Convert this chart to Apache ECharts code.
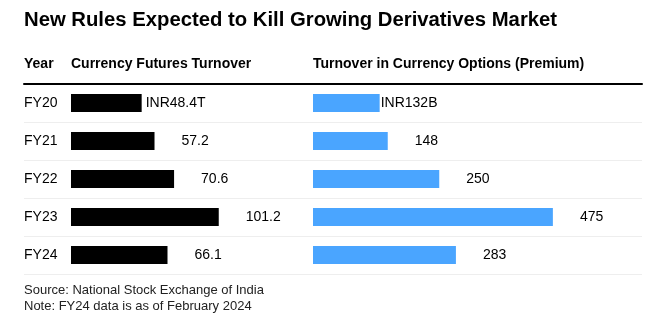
<!DOCTYPE html>
<html><head><meta charset="utf-8">
<script src="https://cdn.jsdelivr.net/npm/echarts@6/dist/echarts.min.js"></script>
<style>html,body{margin:0;padding:0;background:#fff}#c{width:653px;height:327px}</style>
</head><body><div id="c"></div>
<script>
var years = ['FY20','FY21','FY22','FY23','FY24'];
var futures = [48.4, 57.2, 70.6, 101.2, 66.1];
var options = [132, 148, 250, 475, 283];
var futuresFirstLabel = 'INR48.4T';
var optionsFirstLabel = 'INR132B';
var titleText = 'New Rules Expected to Kill Growing Derivatives Market';
var headYear = 'Year';
var headFutures = 'Currency Futures Turnover';
var headOptions = 'Turnover in Currency Options (Premium)';
var footer = 'Source: National Stock Exchange of India\nNote: FY24 data is as of February 2024';

var FONT = '"Liberation Sans", Arial, sans-serif';
var chart = echarts.init(document.getElementById('c'), null, {renderer:'canvas'});

function mk(vals, firstLabel, firstDist) {
  return vals.map(function(v, i){
    var d = {value: v};
    if (i === 0) d.label = {distance: firstDist, formatter: firstLabel};
    return d;
  });
}

var gTop = 84, gH = 190;
chart.setOption({
  animation: false,
  textStyle: {fontFamily: FONT},
  title: [
    {text: titleText, left: 24, top: 10, padding: 0, textStyle: {fontFamily: FONT, fontSize: 20.3, fontWeight: 'bold', color: '#000'}},
    {text: headYear, left: 24, top: 57, padding: 0, textStyle: {fontFamily: FONT, fontSize: 14, fontWeight: 'bold', color: '#000'}},
    {text: headFutures, left: 71, top: 57, padding: 0, textStyle: {fontFamily: FONT, fontSize: 14, fontWeight: 'bold', color: '#000'}},
    {text: headOptions, left: 313, top: 57, padding: 0, textStyle: {fontFamily: FONT, fontSize: 14, fontWeight: 'bold', color: '#000'}},
    {text: footer, left: 24, top: 282, padding: 0, textStyle: {fontFamily: FONT, fontSize: 13, fontWeight: 'normal', color: '#222', lineHeight: 16}}
  ],
  grid: [
    {left: 24, right: 11, top: gTop, height: gH},
    {left: 71, width: 219, top: gTop, height: gH},
    {left: 313, width: 303, top: gTop, height: gH}
  ],
  xAxis: [
    {gridIndex: 0, type: 'value', position: 'top', min: 0, max: 1,
      axisLine: {show: true, onZero: false, lineStyle: {color: '#000', width: 2}},
      axisTick: {show: false}, axisLabel: {show: false}, splitLine: {show: false}},
    {gridIndex: 1, type: 'value', min: 0, max: 150, show: false},
    {gridIndex: 2, type: 'value', min: 0, max: 600, show: false}
  ],
  yAxis: [
    {gridIndex: 0, type: 'category', data: years, inverse: true,
      axisLine: {show: false}, axisTick: {show: false},
      axisLabel: {inside: true, margin: 0, fontFamily: FONT, fontSize: 14, color: '#000', verticalAlign: 'middle', padding: [0,0,3,0]},
      splitLine: {show: true, lineStyle: {color: '#eeeeee', width: 1}}},
    {gridIndex: 1, type: 'category', data: years, inverse: true, show: false},
    {gridIndex: 2, type: 'category', data: years, inverse: true, show: false}
  ],
  series: [
    {type: 'bar', xAxisIndex: 1, yAxisIndex: 1, data: mk(futures, futuresFirstLabel, 4), barWidth: 18,
      itemStyle: {color: '#000'},
      label: {show: true, position: 'right', distance: 27, fontFamily: FONT, fontSize: 14, color: '#000', padding: [2,0,0,0]}},
    {type: 'bar', xAxisIndex: 2, yAxisIndex: 2, data: mk(options, optionsFirstLabel, 1), barWidth: 18,
      itemStyle: {color: '#4aa5ff'},
      label: {show: true, position: 'right', distance: 27, fontFamily: FONT, fontSize: 14, color: '#000', padding: [2,0,0,0]}}
  ]
});
</script></body></html>
